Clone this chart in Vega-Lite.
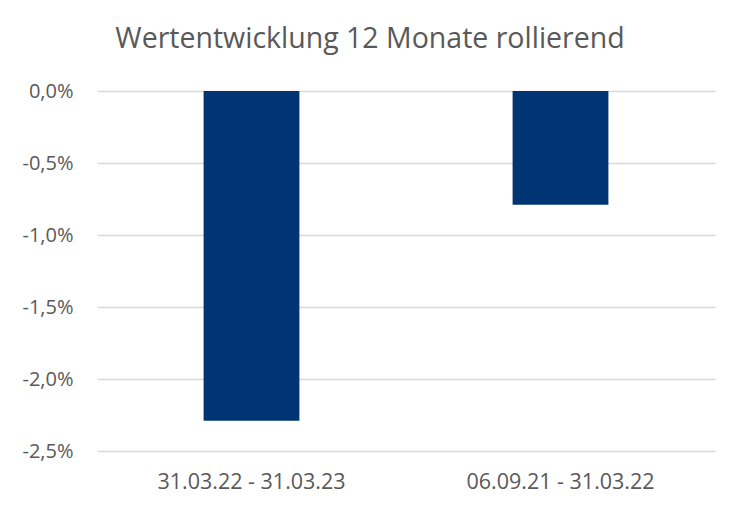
{
  "$schema": "https://vega.github.io/schema/vega-lite/v6.json",
  "autosize": "none",
  "width": 618,
  "height": 360,
  "padding": {"left": 97, "top": 91, "right": 28, "bottom": 63},
  "background": "white",
  "config": {
    "view": {"stroke": null},
    "locale": {"number": {"decimal": ",", "thousands": ".", "grouping": [3], "currency": ["", " €"], "minus": "-"}},
    "font": "Open Sans"
  },
  "title": {
    "text": "Wertentwicklung 12 Monate rollierend",
    "font": "Open Sans",
    "fontSize": 28.5,
    "fontWeight": "normal",
    "color": "#595959",
    "anchor": "middle",
    "dx": -36,
    "baseline": "alphabetic",
    "offset": 5
  },
  "data": {
    "values": [
      {"zeitraum": "31.03.22 - 31.03.23", "wert": -0.0229},
      {"zeitraum": "06.09.21 - 31.03.22", "wert": -0.0079}
    ]
  },
  "mark": {"type": "bar", "color": "#003473", "width": {"band": 0.31}},
  "encoding": {
    "x": {
      "field": "zeitraum",
      "type": "nominal",
      "sort": null,
      "scale": {"paddingInner": 0, "paddingOuter": 0},
      "axis": {
        "title": null,
        "labelAngle": 0,
        "labelFontSize": 21.5,
        "labelLimit": 0,
        "labelColor": "#595959",
        "labelPadding": 20,
        "ticks": false,
        "domain": false,
        "grid": false
      }
    },
    "y": {
      "field": "wert",
      "type": "quantitative",
      "scale": {"domain": [-0.025, 0], "nice": false},
      "axis": {
        "title": null,
        "format": ".1%",
        "values": [0, -0.005, -0.01, -0.015, -0.02, -0.025],
        "labelFontSize": 20,
        "labelColor": "#595959",
        "labelPadding": 24,
        "ticks": false,
        "domain": false,
        "grid": true,
        "gridColor": "#d9d9d9",
        "gridWidth": 1.3
      }
    }
  }
}
